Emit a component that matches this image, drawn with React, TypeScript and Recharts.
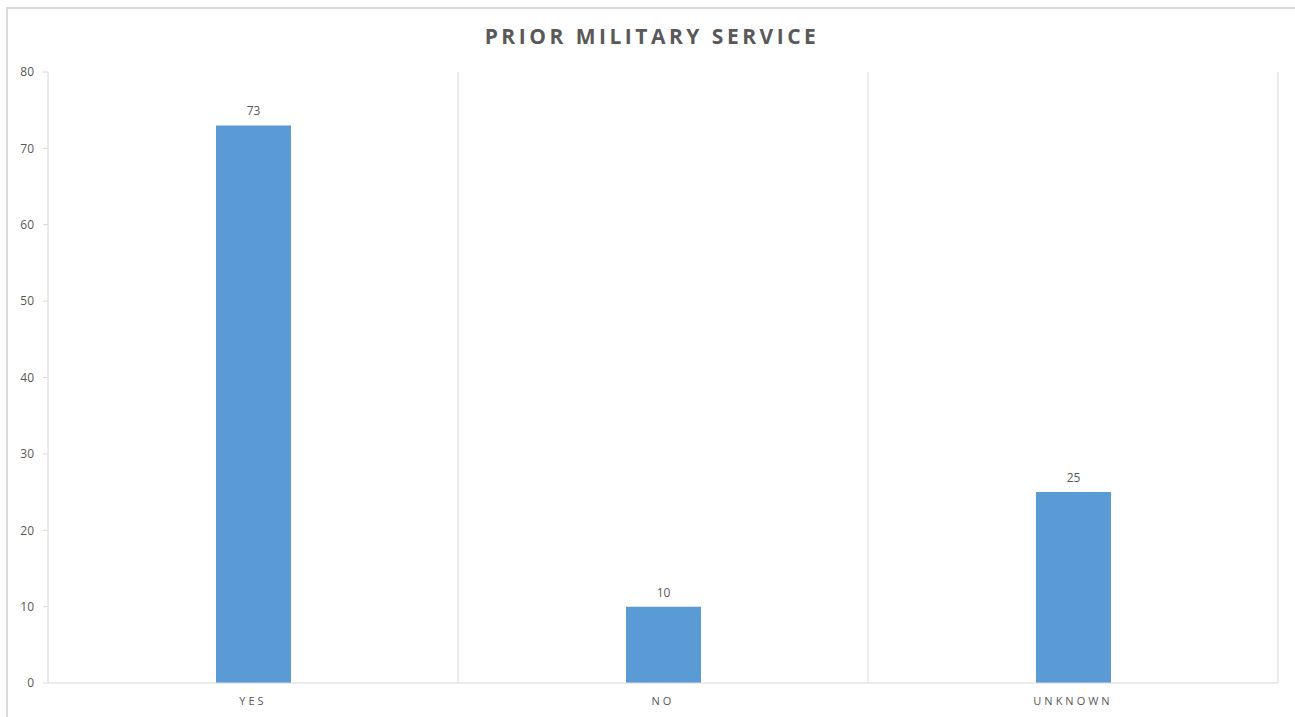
import React from 'react';
import { BarChart, Bar, XAxis, YAxis, CartesianGrid, LabelList } from 'recharts';

const categories = ['YES', 'NO', 'UNKNOWN'];
const counts = [73, 10, 25];
const yTicks = [0, 10, 20, 30, 40, 50, 60, 70, 80];

const data = categories.map((name, i) => ({ name, value: counts[i] }));

const TEXT = '#595959';
const LINE = '#d9d9d9';
const FONT = '"Open Sans", "Noto Sans", sans-serif';

export default function App() {
  return (
    <div style={{ position: 'absolute', left: 0, top: 0, width: 1295, height: 717, background: '#fff', fontFamily: FONT }}>
      {/* chart frame, only top and left edges show in the shot */}
      <div style={{ position: 'absolute', left: 6, top: 7, right: 0, bottom: 0, borderTop: `2px solid ${LINE}`, borderLeft: `2px solid ${LINE}` }} />
      <div
        style={{
          position: 'absolute', left: 0, width: 1304, top: 22, textAlign: 'center',
          fontSize: 21, fontWeight: 700, letterSpacing: 3.5, color: TEXT,
        }}
      >
        PRIOR MILITARY SERVICE
      </div>
      <div style={{ position: 'absolute', left: 0, top: 0 }}>
        <BarChart width={1295} height={717} data={data} margin={{ top: 72, right: 17, bottom: 4, left: 0 }}>
          <CartesianGrid
            horizontal={false}
            stroke={LINE}
            verticalCoordinatesGenerator={({ offset }: any) =>
              categories.map((_, i) => offset.left + (offset.width * (i + 1)) / categories.length)
            }
          />
          <XAxis
            dataKey="name"
            height={30}
            stroke={LINE}
            tickLine={false}
            tickMargin={8}
            tick={{ fill: TEXT, fontSize: 11, letterSpacing: 3, fontFamily: FONT }}
          />
          <YAxis
            width={48}
            domain={[0, 80]}
            ticks={yTicks}
            interval={0}
            stroke={LINE}
            tickSize={5}
            tickMargin={9}
            tick={{ fill: TEXT, fontSize: 12, fontFamily: FONT }}
          />
          <Bar dataKey="value" fill="#5B9BD5" barSize={75} isAnimationActive={false}>
            <LabelList dataKey="value" position="top" offset={10} fill={TEXT} fontSize={12} fontFamily={FONT} />
          </Bar>
        </BarChart>
      </div>
    </div>
  );
}
